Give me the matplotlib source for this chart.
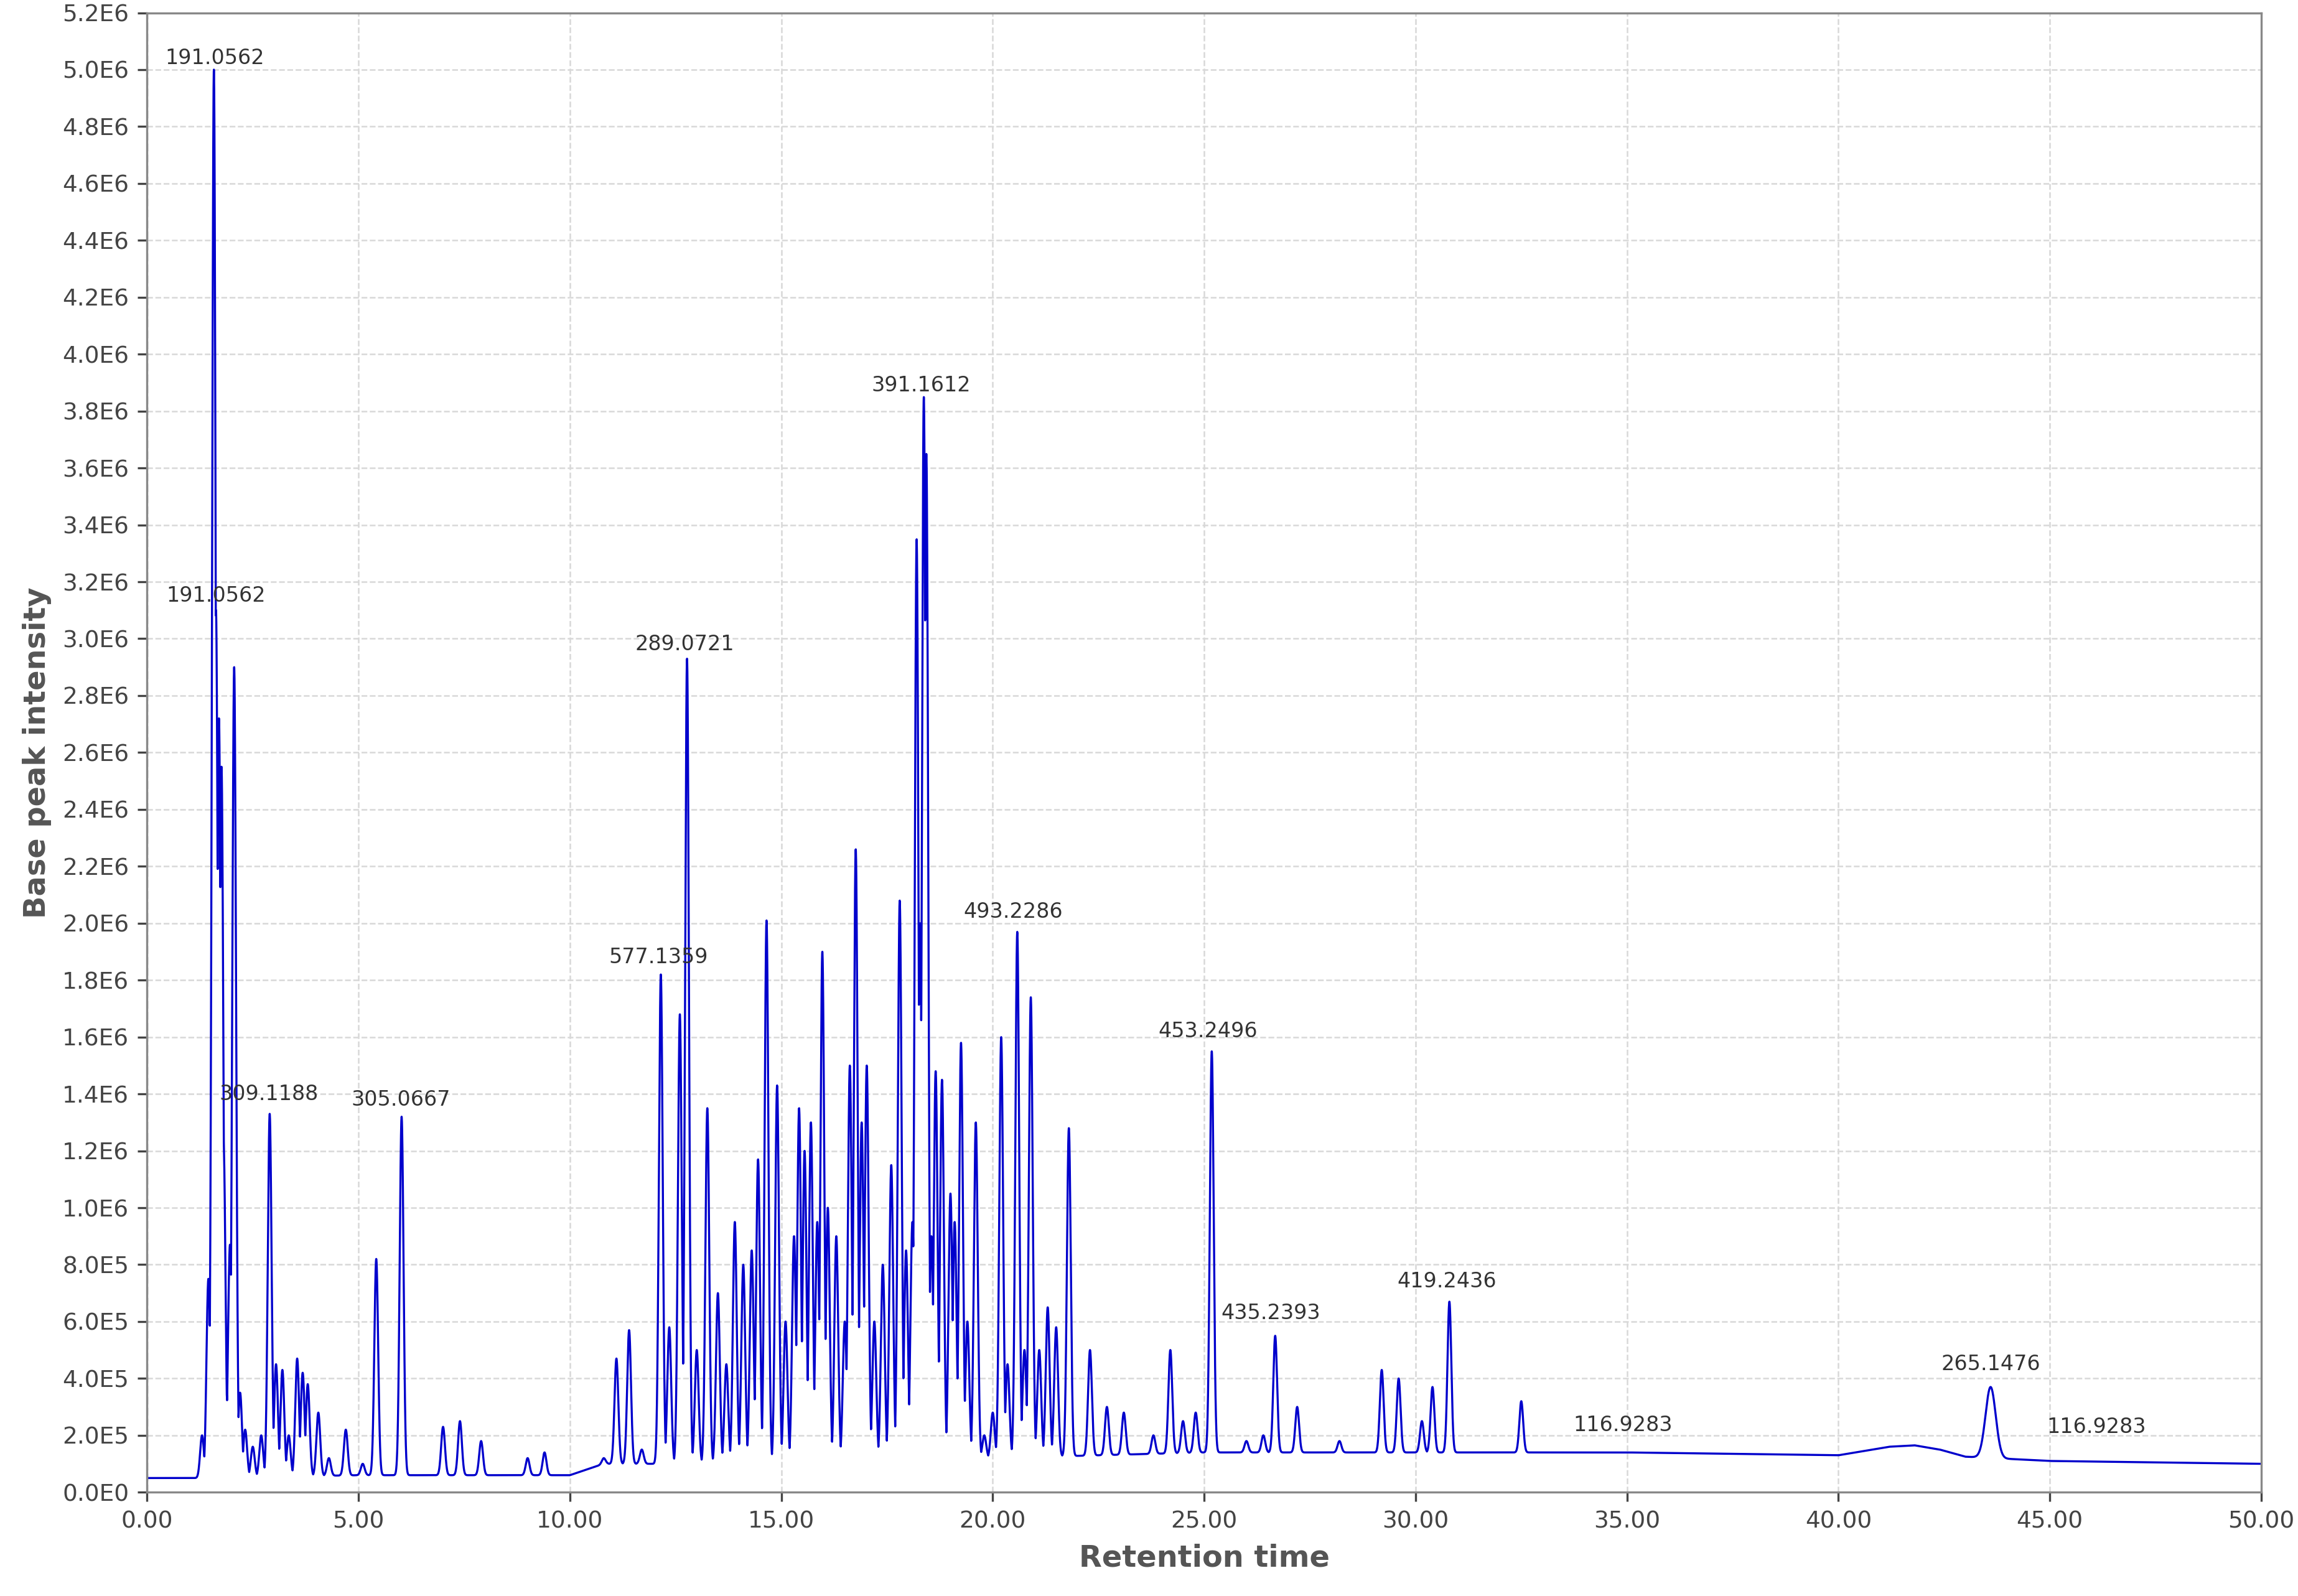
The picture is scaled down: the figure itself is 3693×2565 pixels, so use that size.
import numpy as np
import matplotlib.pyplot as plt
from matplotlib.ticker import MultipleLocator, FuncFormatter

# peak apex positions (min) and apex intensities
peak_rt = [1.3, 1.45, 1.58, 1.63, 1.7, 1.76, 1.81, 1.87, 1.96, 2.06, 2.2, 2.32, 2.5, 2.7,
           2.9, 3.05, 3.2, 3.35, 3.55, 3.68, 3.8, 4.05, 4.3, 4.7, 5.1, 5.42, 6.02, 7.0,
           7.4, 7.9, 9.0, 9.4, 10.8, 11.1, 11.4, 11.7, 12.15, 12.35, 12.6, 12.77, 13.0,
           13.25, 13.5, 13.7, 13.9, 14.1, 14.3, 14.45, 14.65, 14.9, 15.1, 15.3, 15.42,
           15.55, 15.7, 15.85, 15.97, 16.1, 16.3, 16.5, 16.62, 16.76, 16.9, 17.02, 17.2,
           17.4, 17.6, 17.8, 17.95, 18.1, 18.2, 18.28, 18.37, 18.43, 18.55, 18.65, 18.8,
           19.0, 19.1, 19.25, 19.4, 19.6, 19.8, 20.0, 20.2, 20.35, 20.58, 20.75, 20.9,
           21.1, 21.3, 21.5, 21.8, 22.3, 22.7, 23.1, 23.8, 24.2, 24.5, 24.8, 25.18, 26.0,
           26.4, 26.68, 27.2, 28.2, 29.2, 29.6, 30.15, 30.4, 30.8, 32.5, 43.6]
peak_int = [0.2, 0.75, 5.0, 3.1, 2.72, 2.55, 1.22, 0.36, 0.87, 2.9, 0.35, 0.22, 0.16, 0.2,
            1.33, 0.45, 0.43, 0.2, 0.47, 0.42, 0.38, 0.28, 0.12, 0.22, 0.1, 0.82, 1.32, 0.23,
            0.25, 0.18, 0.12, 0.14, 0.12, 0.47, 0.57, 0.15, 1.82, 0.58, 1.68, 2.93, 0.5,
            1.35, 0.7, 0.45, 0.95, 0.8, 0.85, 1.17, 2.01, 1.43, 0.6, 0.9, 1.35,
            1.2, 1.3, 0.95, 1.9, 1.0, 0.9, 0.6, 1.5, 2.26, 1.3, 1.5, 0.6,
            0.8, 1.15, 2.08, 0.85, 0.95, 3.35, 2.0, 3.85, 3.65, 0.9, 1.48, 1.45,
            1.05, 0.95, 1.58, 0.6, 1.3, 0.2, 0.28, 1.6, 0.45, 1.97, 0.5, 1.74,
            0.5, 0.65, 0.58, 1.28, 0.5, 0.3, 0.28, 0.2, 0.5, 0.25, 0.28, 1.55, 0.18,
            0.2, 0.55, 0.3, 0.18, 0.43, 0.4, 0.25, 0.37, 0.67, 0.32, 0.37]
peak_w = [0.045] * (len(peak_rt) - 1) + [0.12]

# baseline knots (min, intensity E6)
base_rt = [0, 1.2, 5, 10, 10.8, 15, 20, 25, 30, 35, 40, 40.6, 41.2, 41.8, 42.4, 43, 45, 50]
base_int = [0.05, 0.05, 0.06, 0.06, 0.1, 0.1, 0.12, 0.14, 0.14, 0.14, 0.13, 0.145, 0.16,
            0.165, 0.15, 0.125, 0.11, 0.1]

# annotation labels (x, y in E6, text)
lab_x = [1.6, 1.63, 2.88, 6.0, 12.72, 12.09, 18.3, 20.48, 25.09, 26.58, 30.74, 34.9, 43.6, 46.1]
lab_y = [5.04, 3.15, 1.40, 1.38, 2.98, 1.88, 3.89, 2.04, 1.62, 0.63, 0.74, 0.235, 0.45, 0.23]
lab_txt = ['191.0562', '191.0562', '309.1188', '305.0667', '289.0721', '577.1359', '391.1612',
           '493.2286', '453.2496', '435.2393', '419.2436', '116.9283', '265.1476', '116.9283']

t = np.linspace(0, 50, 20000)
base = np.interp(t, base_rt, base_int)
y = base.copy()
for rt, h, w in zip(peak_rt, peak_int, peak_w):
    b = np.interp(rt, base_rt, base_int)
    y = np.maximum(y, base + (h - b) * np.exp(-0.5 * ((t - rt) / w) ** 2))
y = y * 1e6

fig = plt.figure(figsize=(12.31, 8.55), dpi=300)
ax = fig.add_axes([0.064, 0.065, 0.92, 0.927])
ax.plot(t, y, color='#0000cc', lw=0.8)
ax.set_xlim(0, 50)
ax.set_ylim(0, 5.2e6)
ax.xaxis.set_major_locator(MultipleLocator(5))
ax.yaxis.set_major_locator(MultipleLocator(2e5))
ax.xaxis.set_major_formatter(FuncFormatter(lambda v, p: f'{v:.2f}'))

def sci(v, p):
    if abs(v) < 1:
        return '0.0E0'
    e = int(np.floor(np.log10(abs(v) + 1e-9)))
    return f'{v / 10**e:.1f}E{e}'

ax.yaxis.set_major_formatter(FuncFormatter(sci))
ax.grid(True, color='#d8d8d8', ls='--', lw=0.6)
ax.axvline(0, color='#888888', ls='--', lw=0.8)
ax.tick_params(labelsize=9, colors='#444444', labelcolor='#444444')
for s in ax.spines.values():
    s.set_color('#888888')
ax.set_xlabel('Retention time', fontsize=11.5, fontweight='bold', color='#555555', labelpad=4)
ax.set_ylabel('Base peak intensity', fontsize=11.5, fontweight='bold', color='#555555', labelpad=4)
for x, yy, s in zip(lab_x, lab_y, lab_txt):
    ax.text(x, yy * 1e6, s, fontsize=8, color='#333333', ha='center', va='center')

fig.savefig('out.png', dpi=300)
